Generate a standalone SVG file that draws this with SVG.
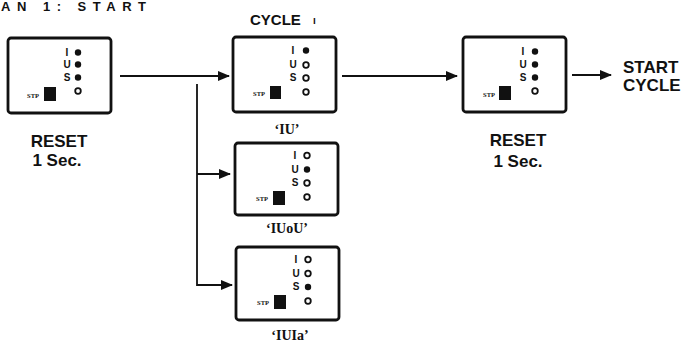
<svg xmlns="http://www.w3.org/2000/svg" width="688" height="347" viewBox="0 0 688 347">
<style>
.box{fill:#fff;stroke:#111;stroke-width:2.8}
.t{font-family:"Liberation Sans",Arial,sans-serif;font-weight:bold;fill:#111}
.lab{font-size:17px;text-anchor:middle}
.q{font-size:14px;text-anchor:middle;font-family:"Liberation Serif",serif;font-weight:bold;fill:#111}
.ind{font-size:10px;text-anchor:middle}
.stp{font-size:6.5px;text-anchor:middle;font-family:"Liberation Serif",serif;font-weight:bold;fill:#111}
.on{fill:#111}
.off{fill:#fff;stroke:#111;stroke-width:1.8}
.sq{fill:#111}
.ln{stroke:#111;stroke-width:1.8;fill:none}
</style>
<defs>
<marker id="ah" markerWidth="12" markerHeight="10" refX="11" refY="5" orient="auto" markerUnits="userSpaceOnUse">
<path d="M0,0 L12,5 L0,10 Z" fill="#111"/>
</marker>
</defs>
<rect width="688" height="347" fill="#fff"/>
<text class="t" x="1" y="11" font-size="13" textLength="145" lengthAdjust="spacing">AN 1: START</text>
<text class="t" x="250" y="25" font-size="15">CYCLE</text>
<text class="t" x="313" y="24" font-size="10">ı</text>

<g id="reset1">
<rect class="box" x="8" y="38" width="103" height="75" rx="3"/>
<text class="t ind" x="67" y="56">I</text><circle class="on" cx="78" cy="52.5" r="3.2"/>
<text class="t ind" x="67" y="68">U</text><circle class="on" cx="78" cy="64.5" r="3.2"/>
<text class="t ind" x="67" y="81">S</text><circle class="on" cx="78" cy="77.5" r="3.2"/>
<circle class="off" cx="78" cy="91" r="2.8"/>
<text class="stp" x="33" y="98">STP</text>
<rect class="sq" x="44" y="87" width="12" height="14"/>
<text class="t lab" x="59" y="147">RESET</text>
<text class="t lab" x="57" y="166">1 Sec.</text>
</g>

<g id="iu">
<rect class="box" x="233" y="37" width="103" height="75" rx="3"/>
<text class="t ind" x="293" y="54">I</text><circle class="on" cx="306" cy="50.5" r="3.2"/>
<text class="t ind" x="293" y="68">U</text><circle class="off" cx="306" cy="65" r="2.8"/>
<text class="t ind" x="293" y="81">S</text><circle class="off" cx="306" cy="78" r="2.8"/>
<circle class="off" cx="306" cy="92" r="2.8"/>
<text class="stp" x="259" y="96">STP</text>
<rect class="sq" x="270" y="86" width="11" height="13"/>
<text class="q" x="287" y="134">‘IU’</text>
</g>

<g id="iuou">
<rect class="box" x="235" y="143" width="103" height="72" rx="3"/>
<text class="t ind" x="295" y="159">I</text><circle class="off" cx="307" cy="155.5" r="2.8"/>
<text class="t ind" x="295" y="173">U</text><circle class="on" cx="307" cy="169.5" r="3.2"/>
<text class="t ind" x="295" y="186">S</text><circle class="off" cx="307" cy="183" r="2.8"/>
<circle class="off" cx="307" cy="197" r="2.8"/>
<text class="stp" x="262" y="201">STP</text>
<rect class="sq" x="273" y="191" width="12" height="14"/>
<text class="q" x="287" y="233">‘IUoU’</text>
</g>

<g id="iuia">
<rect class="box" x="236" y="247" width="103" height="73" rx="3"/>
<text class="t ind" x="296" y="263">I</text><circle class="off" cx="308" cy="259.5" r="2.8"/>
<text class="t ind" x="296" y="277">U</text><circle class="off" cx="308" cy="273.5" r="2.8"/>
<text class="t ind" x="296" y="290">S</text><circle class="on" cx="308" cy="287" r="3.2"/>
<circle class="off" cx="308" cy="301" r="2.8"/>
<text class="stp" x="263" y="305">STP</text>
<rect class="sq" x="274" y="295" width="12" height="14"/>
<text class="q" x="290" y="340">‘IUIa’</text>
</g>

<g id="reset2">
<rect class="box" x="463" y="37" width="103" height="75" rx="3"/>
<text class="t ind" x="523" y="55">I</text><circle class="on" cx="535" cy="51.5" r="3.2"/>
<text class="t ind" x="523" y="68">U</text><circle class="on" cx="535" cy="64.5" r="3.2"/>
<text class="t ind" x="523" y="81">S</text><circle class="on" cx="535" cy="77.5" r="3.2"/>
<circle class="off" cx="535" cy="91" r="2.8"/>
<text class="stp" x="489" y="97">STP</text>
<rect class="sq" x="499" y="86" width="12" height="14"/>
<text class="t lab" x="518" y="146">RESET</text>
<text class="t lab" x="518" y="167">1 Sec.</text>
</g>

<g id="start">
<text class="t" x="623" y="73" font-size="17">START</text>
<text class="t" x="623" y="91" font-size="17">CYCLE</text>
</g>

<g id="connectors">
<line class="ln" x1="120" y1="76" x2="229" y2="76" marker-end="url(#ah)"/>
<polyline class="ln" points="197,84 197,285 232,285" marker-end="url(#ah)"/>
<line class="ln" x1="197" y1="174" x2="230" y2="174" marker-end="url(#ah)"/>
<line class="ln" x1="342" y1="76" x2="457" y2="76" marker-end="url(#ah)"/>
<line class="ln" x1="572" y1="75" x2="611" y2="75" marker-end="url(#ah)"/>
</g>
</svg>
